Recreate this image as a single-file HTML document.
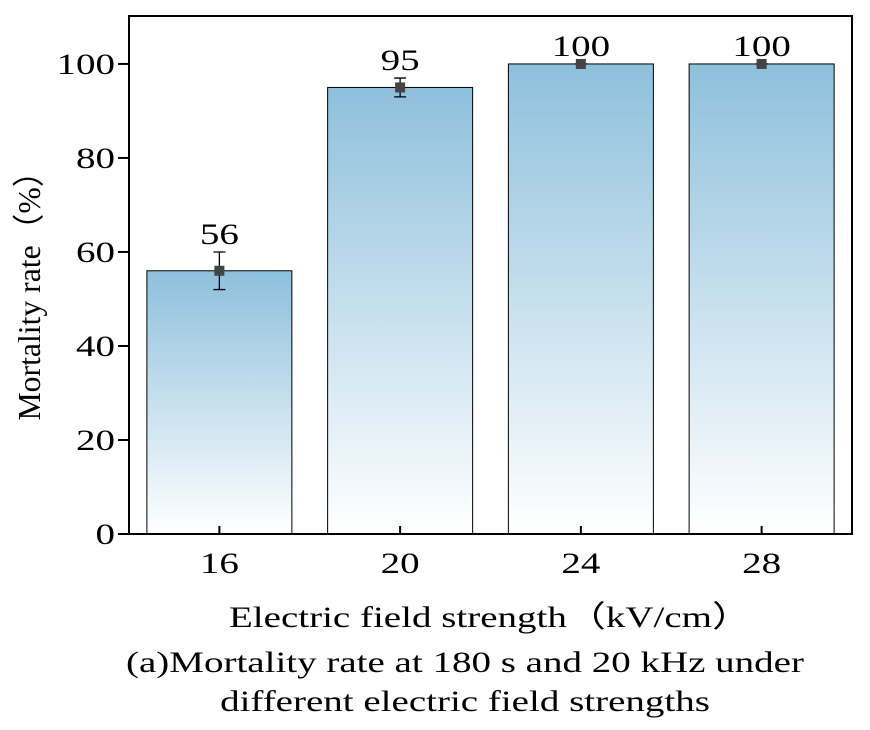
<!DOCTYPE html>
<html><head><meta charset="utf-8"><style>
body{margin:0;background:#fff;}
svg text{font-family:"Liberation Serif",serif;fill:#000;}
</style></head><body>
<svg id="svg" width="870" height="725" viewBox="0 0 870 725" xmlns="http://www.w3.org/2000/svg">
<defs>
<linearGradient id="g" x1="0" y1="0" x2="0" y2="1">
<stop offset="0" stop-color="#8ec0dc"/>
<stop offset="1" stop-color="#ffffff"/>
</linearGradient>
</defs>
<g id="bars"></g>
<g id="axes"></g>
<text x="40" y="288" font-size="32" transform="rotate(-90 40 288)" text-anchor="middle" textLength="265" lengthAdjust="spacingAndGlyphs">Mortality rate（%）</text>
<text class="w" x="490" y="627" font-size="30" text-anchor="middle">Electric field strength（kV/cm）</text>
<text class="w" x="465" y="672" font-size="30" text-anchor="middle">(a)Mortality rate at 180 s and 20 kHz under</text>
<text class="w" x="465" y="711" font-size="30" text-anchor="middle">different electric field strengths</text>
<script>
const categories=["16","20","24","28"];
const values=[56,95,100,100];
const errors=[4,2,0,0];
const yTicks=[0,20,40,60,80,100];
const L=129,R=852,T=16,B=534,ymax=110.2;
const y=v=>B-(v/ymax)*(B-T);
const step=(R-L)/categories.length;
const x=i=>L+step*(i+0.5);
const NS="http://www.w3.org/2000/svg";
function mk(t,a,p){const e=document.createElementNS(NS,t);for(const k in a)e.setAttribute(k,a[k]);p.appendChild(e);return e;}
const bars=document.getElementById('bars'),axes=document.getElementById('axes');
const bw=145;
categories.forEach((c,i)=>{
 const cx=x(i);
 const r=mk('rect',{x:cx-bw/2,y:y(values[i]),width:bw,height:B-y(values[i]),fill:'url(#g)',stroke:'#000','stroke-width':1},bars);
 
 
 const e=mk('path',{d:`M${cx-6},${y(values[i]+errors[i])}H${cx+6}M${cx},${y(values[i]+errors[i])}V${y(values[i]-errors[i])}M${cx-6},${y(values[i]-errors[i])}H${cx+6}`,stroke:'#000','stroke-width':1.3,fill:'none'},bars);
 
 
 const m=mk('rect',{x:cx-5,y:y(values[i])-5,width:10,height:10,fill:'#444'},bars);
 
 
 const t=mk('text',{x:cx,y:y(values[i]+errors[i])-8,'font-size':30,'text-anchor':'middle','class':'w'},bars);
 t.textContent=values[i];
 
 
 const tk=mk('line',{x1:cx,x2:cx,y1:B,y2:B-8,stroke:'#000','stroke-width':2},axes);
 
 
 const tl=mk('text',{x:cx,y:B+39,'font-size':30,'text-anchor':'middle','class':'w'},axes);
 tl.textContent=c;
 
 
});
yTicks.forEach(v=>{
 const tk=mk('line',{x1:L-11,x2:L,y1:y(v),y2:y(v),stroke:'#000','stroke-width':2},axes);
 
 
 const tl=mk('text',{x:L-14,y:y(v)+10,'font-size':30,'text-anchor':'end','class':'w'},axes);
 tl.textContent=v;
 
 
});
const f=mk('rect',{x:L,y:T,width:R-L,height:B-T,fill:'none',stroke:'#000','stroke-width':2},axes);


document.querySelectorAll('text.w').forEach(t=>{
 const n=t.getComputedTextLength();
 t.setAttribute('textLength',n*1.3);
 t.setAttribute('lengthAdjust','spacingAndGlyphs');
});
</script>
</svg>
</body></html>
